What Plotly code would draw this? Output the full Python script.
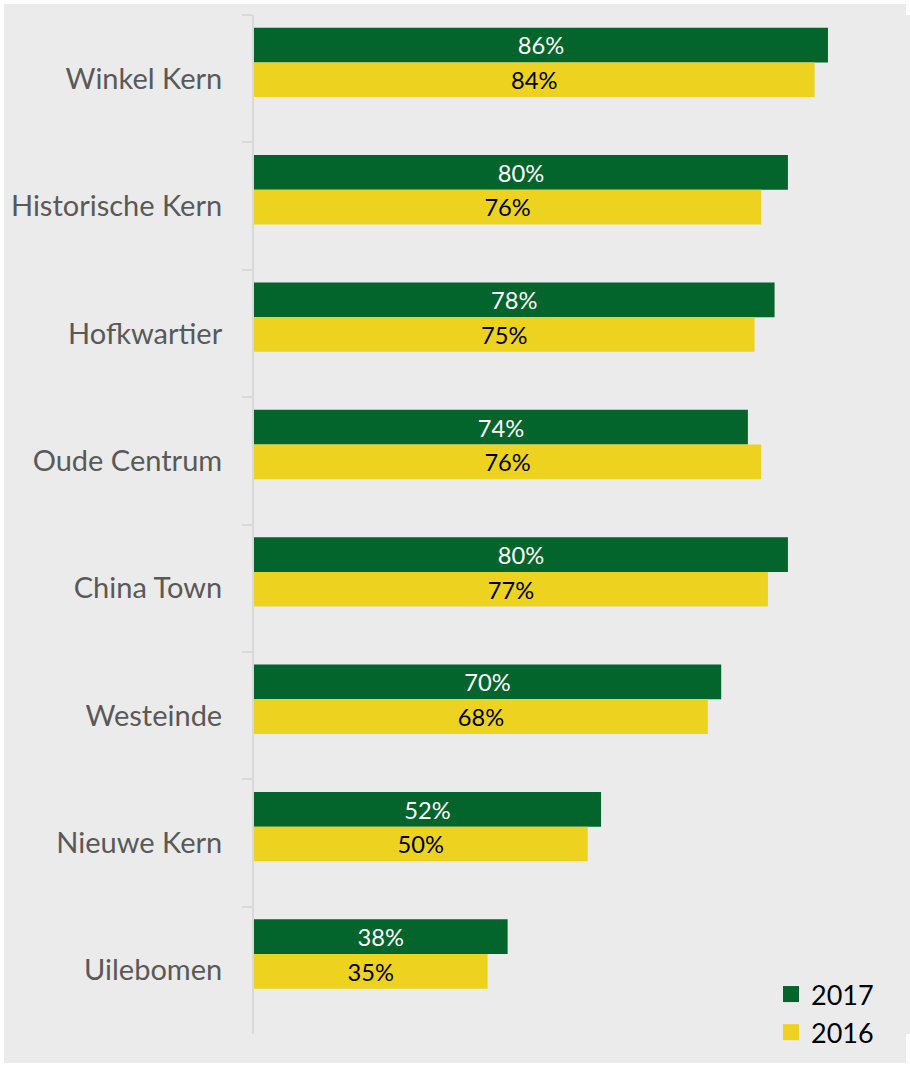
import plotly.graph_objects as go

categories = ["Winkel Kern", "Historische Kern", "Hofkwartier", "Oude Centrum",
              "China Town", "Westeinde", "Nieuwe Kern", "Uilebomen"]
values_2017 = [86, 80, 78, 74, 80, 70, 52, 38]
values_2016 = [84, 76, 75, 76, 77, 68, 50, 35]
series_names = ["2017", "2016"]

GREEN = "#03642C"
YELLOW = "#EDD31F"
PANEL = "#EBEBEB"
W, H = 910, 1067
ML, MR, MT, MB = 254, 0, 15, 33
pw = W - ML - MR
ph = H - MT - MB

fig = go.Figure()
bw = 0.272
fig.add_trace(go.Bar(
    y=categories, x=values_2017, orientation="h", name=series_names[0],
    marker=dict(color=GREEN, line=dict(width=0)),
    width=bw, offset=-0.4,
    text=[f"{v}%" for v in values_2017], textposition="inside",
    insidetextanchor="middle", textangle=0,
    textfont=dict(family="Lato", size=24, color="white"),
    showlegend=False, hoverinfo="skip",
))
fig.add_trace(go.Bar(
    y=categories, x=values_2016, orientation="h", name=series_names[1],
    marker=dict(color=YELLOW, line=dict(width=0)),
    width=bw, offset=-0.4 + bw,
    text=[f"{v}%" for v in values_2016], textposition="inside",
    insidetextanchor="middle", textangle=0,
    textfont=dict(family="Lato", size=24, color="black"),
    showlegend=False, hoverinfo="skip",
))
# legend entries
for name, col in zip(series_names, [GREEN, YELLOW]):
    fig.add_trace(go.Scatter(
        x=[None], y=[None], mode="markers", name=name,
        marker=dict(symbol="square", size=18, color=col),
        showlegend=True,
    ))

fig.update_layout(
    width=W, height=H,
    margin=dict(l=ML, r=MR, t=MT, b=MB, pad=0),
    paper_bgcolor="white",
    plot_bgcolor=PANEL,
    barmode="overlay",
    xaxis=dict(range=[0, pw / 6.674], visible=False, showgrid=False, zeroline=False),
    yaxis=dict(
        type="category", categoryorder="array", categoryarray=categories,
        range=[7.5, -0.5], showgrid=False, zeroline=False,
        showline=True, linecolor="#D9D9D9", linewidth=2,
        ticks="outside", tickson="boundaries", ticklen=10,
        tickcolor="#D9D9D9", tickwidth=2,
        ticklabelstandoff=24,
        tickfont=dict(family="Lato", size=29, color="#595959"),
    ),
    legend=dict(
        x=(771 - ML) / pw, y=(H - MB - 970) / ph, xanchor="left", yanchor="top",
        bgcolor="rgba(0,0,0,0)", traceorder="normal",
        font=dict(family="Lato", size=27, color="black"),
        itemsizing="trace",
    ),
    shapes=[dict(
        type="rect", xref="paper", yref="paper", layer="below",
        x0=(4 - ML) / pw, x1=(906 - ML) / pw,
        y0=-(1063 - (H - MB)) / ph, y1=1 + (MT - 4) / ph,
        fillcolor=PANEL, line=dict(width=0),
    )],
)

fig.write_html("out.html", config={"displayModeBar": False},
               post_script="document.body.style.margin='0px';")
